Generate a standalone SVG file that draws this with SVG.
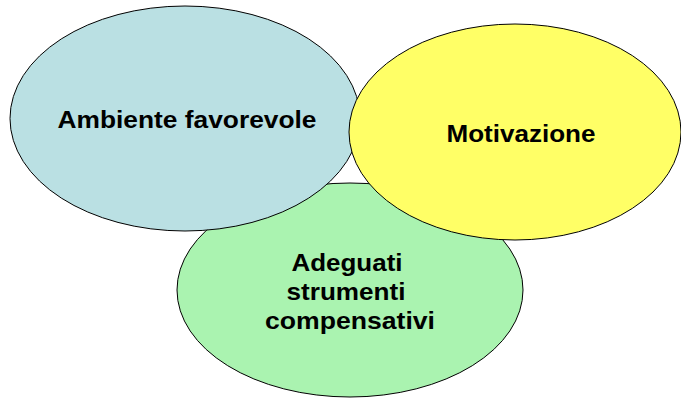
<svg xmlns="http://www.w3.org/2000/svg" width="681" height="399" viewBox="0 0 681 399">
<style>
.e{stroke:#000;stroke-width:1}
.t{font-family:"Liberation Sans",Arial,sans-serif;font-weight:bold;font-size:24px;fill:#000;text-anchor:middle}
</style>
<rect width="681" height="399" fill="#fff"/>
<g id="node-strumenti">
<ellipse class="e" cx="350" cy="290" rx="173" ry="107" fill="#AAF3B0"/>
<text class="t" x="347" y="271" textLength="111" lengthAdjust="spacingAndGlyphs">Adeguati</text>
<text class="t" x="346" y="300" textLength="119" lengthAdjust="spacingAndGlyphs">strumenti</text>
<text class="t" x="350" y="328.5" textLength="170" lengthAdjust="spacingAndGlyphs">compensativi</text>
</g>
<g id="node-ambiente">
<ellipse class="e" cx="185" cy="118.5" rx="175" ry="112.5" fill="#BAE0E3"/>
<text class="t" x="187" y="128" textLength="259" lengthAdjust="spacingAndGlyphs">Ambiente favorevole</text>
</g>
<g id="node-motivazione">
<ellipse class="e" cx="515" cy="132" rx="166" ry="108" fill="#FFFF66"/>
<text class="t" x="521" y="141.5" textLength="149" lengthAdjust="spacingAndGlyphs">Motivazione</text>
</g>
<g id="connectors"/>
</svg>
